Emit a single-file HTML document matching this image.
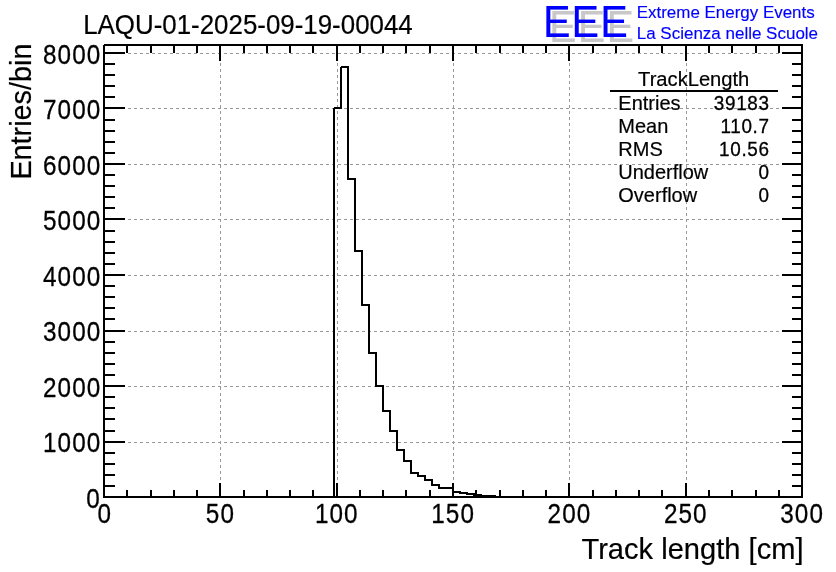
<!DOCTYPE html>
<html lang="en">
<head>
<meta charset="utf-8">
<title>LAQU-01-2025-09-19-00044 TrackLength</title>
<style>
html,body{margin:0;padding:0;background:#fff;}
body{width:836px;height:572px;overflow:hidden;}
svg{display:block;}
text{font-family:"Liberation Sans",sans-serif;fill:#000;stroke:#000;stroke-width:0;stroke-linejoin:round;}
.k{fill:#000;}
</style>
</head>
<body>
<svg width="836" height="572" viewBox="0 0 836 572">
<rect width="836" height="572" fill="#fff"/>
<g shape-rendering="crispEdges">
<path fill="none" stroke="#999" stroke-width="1" transform="translate(0,0.5)" d="M104 442h3 M110 442h3 M116 442h3 M122 442h3 M128 442h3 M134 442h3 M140 442h3 M146 442h3 M152 442h3 M158 442h3 M164 442h3 M170 442h3 M176 442h3 M182 442h3 M188 442h3 M194 442h3 M200 442h3 M206 442h3 M212 442h3 M218 442h3 M224 442h3 M230 442h3 M236 442h3 M242 442h3 M248 442h3 M254 442h3 M260 442h3 M266 442h3 M272 442h3 M278 442h3 M284 442h3 M290 442h3 M296 442h3 M302 442h3 M308 442h3 M314 442h3 M320 442h3 M326 442h3 M332 442h3 M338 442h3 M344 442h3 M350 442h3 M356 442h3 M362 442h3 M368 442h3 M374 442h3 M380 442h3 M386 442h3 M392 442h3 M398 442h3 M404 442h3 M410 442h3 M416 442h3 M422 442h3 M428 442h3 M434 442h3 M440 442h3 M446 442h3 M452 442h3 M458 442h3 M464 442h3 M470 442h3 M476 442h3 M482 442h3 M488 442h3 M494 442h3 M500 442h3 M506 442h3 M512 442h3 M518 442h3 M524 442h3 M530 442h3 M536 442h3 M542 442h3 M548 442h3 M554 442h3 M560 442h3 M566 442h3 M572 442h3 M578 442h3 M584 442h3 M590 442h3 M596 442h3 M602 442h3 M608 442h3 M614 442h3 M620 442h3 M626 442h3 M632 442h3 M638 442h3 M644 442h3 M650 442h3 M656 442h3 M662 442h3 M668 442h3 M674 442h3 M680 442h3 M686 442h3 M692 442h3 M698 442h3 M704 442h3 M710 442h3 M716 442h3 M722 442h3 M728 442h3 M734 442h3 M740 442h3 M746 442h3 M752 442h3 M758 442h3 M764 442h3 M770 442h3 M776 442h3 M782 442h3 M788 442h3 M794 442h3 M800 442h3 M104 386h3 M110 386h3 M116 386h3 M122 386h3 M128 386h3 M134 386h3 M140 386h3 M146 386h3 M152 386h3 M158 386h3 M164 386h3 M170 386h3 M176 386h3 M182 386h3 M188 386h3 M194 386h3 M200 386h3 M206 386h3 M212 386h3 M218 386h3 M224 386h3 M230 386h3 M236 386h3 M242 386h3 M248 386h3 M254 386h3 M260 386h3 M266 386h3 M272 386h3 M278 386h3 M284 386h3 M290 386h3 M296 386h3 M302 386h3 M308 386h3 M314 386h3 M320 386h3 M326 386h3 M332 386h3 M338 386h3 M344 386h3 M350 386h3 M356 386h3 M362 386h3 M368 386h3 M374 386h3 M380 386h3 M386 386h3 M392 386h3 M398 386h3 M404 386h3 M410 386h3 M416 386h3 M422 386h3 M428 386h3 M434 386h3 M440 386h3 M446 386h3 M452 386h3 M458 386h3 M464 386h3 M470 386h3 M476 386h3 M482 386h3 M488 386h3 M494 386h3 M500 386h3 M506 386h3 M512 386h3 M518 386h3 M524 386h3 M530 386h3 M536 386h3 M542 386h3 M548 386h3 M554 386h3 M560 386h3 M566 386h3 M572 386h3 M578 386h3 M584 386h3 M590 386h3 M596 386h3 M602 386h3 M608 386h3 M614 386h3 M620 386h3 M626 386h3 M632 386h3 M638 386h3 M644 386h3 M650 386h3 M656 386h3 M662 386h3 M668 386h3 M674 386h3 M680 386h3 M686 386h3 M692 386h3 M698 386h3 M704 386h3 M710 386h3 M716 386h3 M722 386h3 M728 386h3 M734 386h3 M740 386h3 M746 386h3 M752 386h3 M758 386h3 M764 386h3 M770 386h3 M776 386h3 M782 386h3 M788 386h3 M794 386h3 M800 386h3 M104 331h3 M110 331h3 M116 331h3 M122 331h3 M128 331h3 M134 331h3 M140 331h3 M146 331h3 M152 331h3 M158 331h3 M164 331h3 M170 331h3 M176 331h3 M182 331h3 M188 331h3 M194 331h3 M200 331h3 M206 331h3 M212 331h3 M218 331h3 M224 331h3 M230 331h3 M236 331h3 M242 331h3 M248 331h3 M254 331h3 M260 331h3 M266 331h3 M272 331h3 M278 331h3 M284 331h3 M290 331h3 M296 331h3 M302 331h3 M308 331h3 M314 331h3 M320 331h3 M326 331h3 M332 331h3 M338 331h3 M344 331h3 M350 331h3 M356 331h3 M362 331h3 M368 331h3 M374 331h3 M380 331h3 M386 331h3 M392 331h3 M398 331h3 M404 331h3 M410 331h3 M416 331h3 M422 331h3 M428 331h3 M434 331h3 M440 331h3 M446 331h3 M452 331h3 M458 331h3 M464 331h3 M470 331h3 M476 331h3 M482 331h3 M488 331h3 M494 331h3 M500 331h3 M506 331h3 M512 331h3 M518 331h3 M524 331h3 M530 331h3 M536 331h3 M542 331h3 M548 331h3 M554 331h3 M560 331h3 M566 331h3 M572 331h3 M578 331h3 M584 331h3 M590 331h3 M596 331h3 M602 331h3 M608 331h3 M614 331h3 M620 331h3 M626 331h3 M632 331h3 M638 331h3 M644 331h3 M650 331h3 M656 331h3 M662 331h3 M668 331h3 M674 331h3 M680 331h3 M686 331h3 M692 331h3 M698 331h3 M704 331h3 M710 331h3 M716 331h3 M722 331h3 M728 331h3 M734 331h3 M740 331h3 M746 331h3 M752 331h3 M758 331h3 M764 331h3 M770 331h3 M776 331h3 M782 331h3 M788 331h3 M794 331h3 M800 331h3 M104 275h3 M110 275h3 M116 275h3 M122 275h3 M128 275h3 M134 275h3 M140 275h3 M146 275h3 M152 275h3 M158 275h3 M164 275h3 M170 275h3 M176 275h3 M182 275h3 M188 275h3 M194 275h3 M200 275h3 M206 275h3 M212 275h3 M218 275h3 M224 275h3 M230 275h3 M236 275h3 M242 275h3 M248 275h3 M254 275h3 M260 275h3 M266 275h3 M272 275h3 M278 275h3 M284 275h3 M290 275h3 M296 275h3 M302 275h3 M308 275h3 M314 275h3 M320 275h3 M326 275h3 M332 275h3 M338 275h3 M344 275h3 M350 275h3 M356 275h3 M362 275h3 M368 275h3 M374 275h3 M380 275h3 M386 275h3 M392 275h3 M398 275h3 M404 275h3 M410 275h3 M416 275h3 M422 275h3 M428 275h3 M434 275h3 M440 275h3 M446 275h3 M452 275h3 M458 275h3 M464 275h3 M470 275h3 M476 275h3 M482 275h3 M488 275h3 M494 275h3 M500 275h3 M506 275h3 M512 275h3 M518 275h3 M524 275h3 M530 275h3 M536 275h3 M542 275h3 M548 275h3 M554 275h3 M560 275h3 M566 275h3 M572 275h3 M578 275h3 M584 275h3 M590 275h3 M596 275h3 M602 275h3 M608 275h3 M614 275h3 M620 275h3 M626 275h3 M632 275h3 M638 275h3 M644 275h3 M650 275h3 M656 275h3 M662 275h3 M668 275h3 M674 275h3 M680 275h3 M686 275h3 M692 275h3 M698 275h3 M704 275h3 M710 275h3 M716 275h3 M722 275h3 M728 275h3 M734 275h3 M740 275h3 M746 275h3 M752 275h3 M758 275h3 M764 275h3 M770 275h3 M776 275h3 M782 275h3 M788 275h3 M794 275h3 M800 275h3 M104 219h3 M110 219h3 M116 219h3 M122 219h3 M128 219h3 M134 219h3 M140 219h3 M146 219h3 M152 219h3 M158 219h3 M164 219h3 M170 219h3 M176 219h3 M182 219h3 M188 219h3 M194 219h3 M200 219h3 M206 219h3 M212 219h3 M218 219h3 M224 219h3 M230 219h3 M236 219h3 M242 219h3 M248 219h3 M254 219h3 M260 219h3 M266 219h3 M272 219h3 M278 219h3 M284 219h3 M290 219h3 M296 219h3 M302 219h3 M308 219h3 M314 219h3 M320 219h3 M326 219h3 M332 219h3 M338 219h3 M344 219h3 M350 219h3 M356 219h3 M362 219h3 M368 219h3 M374 219h3 M380 219h3 M386 219h3 M392 219h3 M398 219h3 M404 219h3 M410 219h3 M416 219h3 M422 219h3 M428 219h3 M434 219h3 M440 219h3 M446 219h3 M452 219h3 M458 219h3 M464 219h3 M470 219h3 M476 219h3 M482 219h3 M488 219h3 M494 219h3 M500 219h3 M506 219h3 M512 219h3 M518 219h3 M524 219h3 M530 219h3 M536 219h3 M542 219h3 M548 219h3 M554 219h3 M560 219h3 M566 219h3 M572 219h3 M578 219h3 M584 219h3 M590 219h3 M596 219h3 M602 219h3 M608 219h3 M614 219h3 M620 219h3 M626 219h3 M632 219h3 M638 219h3 M644 219h3 M650 219h3 M656 219h3 M662 219h3 M668 219h3 M674 219h3 M680 219h3 M686 219h3 M692 219h3 M698 219h3 M704 219h3 M710 219h3 M716 219h3 M722 219h3 M728 219h3 M734 219h3 M740 219h3 M746 219h3 M752 219h3 M758 219h3 M764 219h3 M770 219h3 M776 219h3 M782 219h3 M788 219h3 M794 219h3 M800 219h3 M104 164h3 M110 164h3 M116 164h3 M122 164h3 M128 164h3 M134 164h3 M140 164h3 M146 164h3 M152 164h3 M158 164h3 M164 164h3 M170 164h3 M176 164h3 M182 164h3 M188 164h3 M194 164h3 M200 164h3 M206 164h3 M212 164h3 M218 164h3 M224 164h3 M230 164h3 M236 164h3 M242 164h3 M248 164h3 M254 164h3 M260 164h3 M266 164h3 M272 164h3 M278 164h3 M284 164h3 M290 164h3 M296 164h3 M302 164h3 M308 164h3 M314 164h3 M320 164h3 M326 164h3 M332 164h3 M338 164h3 M344 164h3 M350 164h3 M356 164h3 M362 164h3 M368 164h3 M374 164h3 M380 164h3 M386 164h3 M392 164h3 M398 164h3 M404 164h3 M410 164h3 M416 164h3 M422 164h3 M428 164h3 M434 164h3 M440 164h3 M446 164h3 M452 164h3 M458 164h3 M464 164h3 M470 164h3 M476 164h3 M482 164h3 M488 164h3 M494 164h3 M500 164h3 M506 164h3 M512 164h3 M518 164h3 M524 164h3 M530 164h3 M536 164h3 M542 164h3 M548 164h3 M554 164h3 M560 164h3 M566 164h3 M572 164h3 M578 164h3 M584 164h3 M590 164h3 M596 164h3 M602 164h3 M608 164h3 M614 164h3 M620 164h3 M626 164h3 M632 164h3 M638 164h3 M644 164h3 M650 164h3 M656 164h3 M662 164h3 M668 164h3 M674 164h3 M680 164h3 M686 164h3 M692 164h3 M698 164h3 M704 164h3 M710 164h3 M716 164h3 M722 164h3 M728 164h3 M734 164h3 M740 164h3 M746 164h3 M752 164h3 M758 164h3 M764 164h3 M770 164h3 M776 164h3 M782 164h3 M788 164h3 M794 164h3 M800 164h3 M104 108h3 M110 108h3 M116 108h3 M122 108h3 M128 108h3 M134 108h3 M140 108h3 M146 108h3 M152 108h3 M158 108h3 M164 108h3 M170 108h3 M176 108h3 M182 108h3 M188 108h3 M194 108h3 M200 108h3 M206 108h3 M212 108h3 M218 108h3 M224 108h3 M230 108h3 M236 108h3 M242 108h3 M248 108h3 M254 108h3 M260 108h3 M266 108h3 M272 108h3 M278 108h3 M284 108h3 M290 108h3 M296 108h3 M302 108h3 M308 108h3 M314 108h3 M320 108h3 M326 108h3 M332 108h3 M338 108h3 M344 108h3 M350 108h3 M356 108h3 M362 108h3 M368 108h3 M374 108h3 M380 108h3 M386 108h3 M392 108h3 M398 108h3 M404 108h3 M410 108h3 M416 108h3 M422 108h3 M428 108h3 M434 108h3 M440 108h3 M446 108h3 M452 108h3 M458 108h3 M464 108h3 M470 108h3 M476 108h3 M482 108h3 M488 108h3 M494 108h3 M500 108h3 M506 108h3 M512 108h3 M518 108h3 M524 108h3 M530 108h3 M536 108h3 M542 108h3 M548 108h3 M554 108h3 M560 108h3 M566 108h3 M572 108h3 M578 108h3 M584 108h3 M590 108h3 M596 108h3 M602 108h3 M608 108h3 M614 108h3 M620 108h3 M626 108h3 M632 108h3 M638 108h3 M644 108h3 M650 108h3 M656 108h3 M662 108h3 M668 108h3 M674 108h3 M680 108h3 M686 108h3 M692 108h3 M698 108h3 M704 108h3 M710 108h3 M716 108h3 M722 108h3 M728 108h3 M734 108h3 M740 108h3 M746 108h3 M752 108h3 M758 108h3 M764 108h3 M770 108h3 M776 108h3 M782 108h3 M788 108h3 M794 108h3 M800 108h3 M104 53h3 M110 53h3 M116 53h3 M122 53h3 M128 53h3 M134 53h3 M140 53h3 M146 53h3 M152 53h3 M158 53h3 M164 53h3 M170 53h3 M176 53h3 M182 53h3 M188 53h3 M194 53h3 M200 53h3 M206 53h3 M212 53h3 M218 53h3 M224 53h3 M230 53h3 M236 53h3 M242 53h3 M248 53h3 M254 53h3 M260 53h3 M266 53h3 M272 53h3 M278 53h3 M284 53h3 M290 53h3 M296 53h3 M302 53h3 M308 53h3 M314 53h3 M320 53h3 M326 53h3 M332 53h3 M338 53h3 M344 53h3 M350 53h3 M356 53h3 M362 53h3 M368 53h3 M374 53h3 M380 53h3 M386 53h3 M392 53h3 M398 53h3 M404 53h3 M410 53h3 M416 53h3 M422 53h3 M428 53h3 M434 53h3 M440 53h3 M446 53h3 M452 53h3 M458 53h3 M464 53h3 M470 53h3 M476 53h3 M482 53h3 M488 53h3 M494 53h3 M500 53h3 M506 53h3 M512 53h3 M518 53h3 M524 53h3 M530 53h3 M536 53h3 M542 53h3 M548 53h3 M554 53h3 M560 53h3 M566 53h3 M572 53h3 M578 53h3 M584 53h3 M590 53h3 M596 53h3 M602 53h3 M608 53h3 M614 53h3 M620 53h3 M626 53h3 M632 53h3 M638 53h3 M644 53h3 M650 53h3 M656 53h3 M662 53h3 M668 53h3 M674 53h3 M680 53h3 M686 53h3 M692 53h3 M698 53h3 M704 53h3 M710 53h3 M716 53h3 M722 53h3 M728 53h3 M734 53h3 M740 53h3 M746 53h3 M752 53h3 M758 53h3 M764 53h3 M770 53h3 M776 53h3 M782 53h3 M788 53h3 M794 53h3 M800 53h3"/>
<path fill="none" stroke="#999" stroke-width="1" transform="translate(0.5,0)" d="M220 45v3 M220 51v3 M220 57v3 M220 63v3 M220 69v3 M220 75v3 M220 81v3 M220 87v3 M220 93v3 M220 99v3 M220 105v3 M220 111v3 M220 117v3 M220 123v3 M220 129v3 M220 135v3 M220 141v3 M220 147v3 M220 153v3 M220 159v3 M220 165v3 M220 171v3 M220 177v3 M220 183v3 M220 189v3 M220 195v3 M220 201v3 M220 207v3 M220 213v3 M220 219v3 M220 225v3 M220 231v3 M220 237v3 M220 243v3 M220 249v3 M220 255v3 M220 261v3 M220 267v3 M220 273v3 M220 279v3 M220 285v3 M220 291v3 M220 297v3 M220 303v3 M220 309v3 M220 315v3 M220 321v3 M220 327v3 M220 333v3 M220 339v3 M220 345v3 M220 351v3 M220 357v3 M220 363v3 M220 369v3 M220 375v3 M220 381v3 M220 387v3 M220 393v3 M220 399v3 M220 405v3 M220 411v3 M220 417v3 M220 423v3 M220 429v3 M220 435v3 M220 441v3 M220 447v3 M220 453v3 M220 459v3 M220 465v3 M220 471v3 M220 477v3 M220 483v3 M220 489v3 M220 495v3 M337 45v3 M337 51v3 M337 57v3 M337 63v3 M337 69v3 M337 75v3 M337 81v3 M337 87v3 M337 93v3 M337 99v3 M337 105v3 M337 111v3 M337 117v3 M337 123v3 M337 129v3 M337 135v3 M337 141v3 M337 147v3 M337 153v3 M337 159v3 M337 165v3 M337 171v3 M337 177v3 M337 183v3 M337 189v3 M337 195v3 M337 201v3 M337 207v3 M337 213v3 M337 219v3 M337 225v3 M337 231v3 M337 237v3 M337 243v3 M337 249v3 M337 255v3 M337 261v3 M337 267v3 M337 273v3 M337 279v3 M337 285v3 M337 291v3 M337 297v3 M337 303v3 M337 309v3 M337 315v3 M337 321v3 M337 327v3 M337 333v3 M337 339v3 M337 345v3 M337 351v3 M337 357v3 M337 363v3 M337 369v3 M337 375v3 M337 381v3 M337 387v3 M337 393v3 M337 399v3 M337 405v3 M337 411v3 M337 417v3 M337 423v3 M337 429v3 M337 435v3 M337 441v3 M337 447v3 M337 453v3 M337 459v3 M337 465v3 M337 471v3 M337 477v3 M337 483v3 M337 489v3 M337 495v3 M453 45v3 M453 51v3 M453 57v3 M453 63v3 M453 69v3 M453 75v3 M453 81v3 M453 87v3 M453 93v3 M453 99v3 M453 105v3 M453 111v3 M453 117v3 M453 123v3 M453 129v3 M453 135v3 M453 141v3 M453 147v3 M453 153v3 M453 159v3 M453 165v3 M453 171v3 M453 177v3 M453 183v3 M453 189v3 M453 195v3 M453 201v3 M453 207v3 M453 213v3 M453 219v3 M453 225v3 M453 231v3 M453 237v3 M453 243v3 M453 249v3 M453 255v3 M453 261v3 M453 267v3 M453 273v3 M453 279v3 M453 285v3 M453 291v3 M453 297v3 M453 303v3 M453 309v3 M453 315v3 M453 321v3 M453 327v3 M453 333v3 M453 339v3 M453 345v3 M453 351v3 M453 357v3 M453 363v3 M453 369v3 M453 375v3 M453 381v3 M453 387v3 M453 393v3 M453 399v3 M453 405v3 M453 411v3 M453 417v3 M453 423v3 M453 429v3 M453 435v3 M453 441v3 M453 447v3 M453 453v3 M453 459v3 M453 465v3 M453 471v3 M453 477v3 M453 483v3 M453 489v3 M453 495v3 M569 45v3 M569 51v3 M569 57v3 M569 63v3 M569 69v3 M569 75v3 M569 81v3 M569 87v3 M569 93v3 M569 99v3 M569 105v3 M569 111v3 M569 117v3 M569 123v3 M569 129v3 M569 135v3 M569 141v3 M569 147v3 M569 153v3 M569 159v3 M569 165v3 M569 171v3 M569 177v3 M569 183v3 M569 189v3 M569 195v3 M569 201v3 M569 207v3 M569 213v3 M569 219v3 M569 225v3 M569 231v3 M569 237v3 M569 243v3 M569 249v3 M569 255v3 M569 261v3 M569 267v3 M569 273v3 M569 279v3 M569 285v3 M569 291v3 M569 297v3 M569 303v3 M569 309v3 M569 315v3 M569 321v3 M569 327v3 M569 333v3 M569 339v3 M569 345v3 M569 351v3 M569 357v3 M569 363v3 M569 369v3 M569 375v3 M569 381v3 M569 387v3 M569 393v3 M569 399v3 M569 405v3 M569 411v3 M569 417v3 M569 423v3 M569 429v3 M569 435v3 M569 441v3 M569 447v3 M569 453v3 M569 459v3 M569 465v3 M569 471v3 M569 477v3 M569 483v3 M569 489v3 M569 495v3 M686 45v3 M686 51v3 M686 57v3 M686 63v3 M686 69v3 M686 75v3 M686 81v3 M686 87v3 M686 93v3 M686 99v3 M686 105v3 M686 111v3 M686 117v3 M686 123v3 M686 129v3 M686 135v3 M686 141v3 M686 147v3 M686 153v3 M686 159v3 M686 165v3 M686 171v3 M686 177v3 M686 183v3 M686 189v3 M686 195v3 M686 201v3 M686 207v3 M686 213v3 M686 219v3 M686 225v3 M686 231v3 M686 237v3 M686 243v3 M686 249v3 M686 255v3 M686 261v3 M686 267v3 M686 273v3 M686 279v3 M686 285v3 M686 291v3 M686 297v3 M686 303v3 M686 309v3 M686 315v3 M686 321v3 M686 327v3 M686 333v3 M686 339v3 M686 345v3 M686 351v3 M686 357v3 M686 363v3 M686 369v3 M686 375v3 M686 381v3 M686 387v3 M686 393v3 M686 399v3 M686 405v3 M686 411v3 M686 417v3 M686 423v3 M686 429v3 M686 435v3 M686 441v3 M686 447v3 M686 453v3 M686 459v3 M686 465v3 M686 471v3 M686 477v3 M686 483v3 M686 489v3 M686 495v3"/>
</g>
<path class="k" shape-rendering="crispEdges" d="M333 108h2v390h-2zM334 107h8v2h-8zM340 67h2v42h-2zM341 66h8v2h-8zM347 67h2v113h-2zM348 178h8v2h-8zM354 179h2v73h-2zM355 250h8v2h-8zM361 251h2v55h-2zM362 304h8v2h-8zM368 305h2v49h-2zM369 352h8v2h-8zM375 353h2v34h-2zM376 385h8v2h-8zM382 386h2v26h-2zM383 410h8v2h-8zM389 411h2v21h-2zM390 430h8v2h-8zM396 431h2v20h-2zM397 449h8v2h-8zM403 450h2v12h-2zM404 460h8v2h-8zM410 461h2v13h-2zM411 472h8v2h-8zM417 473h2v4h-2zM418 475h8v2h-8zM424 476h2v5h-2zM425 479h8v2h-8zM431 480h2v6h-2zM432 484h8v2h-8zM438 485h2v4h-2zM439 487h8v2h-8zM445 488h2v1h-2zM446 487h8v2h-8zM452 488h2v5h-2zM453 491h8v2h-8zM459 492h2v2h-2zM460 492h8v2h-8zM466 493h2v2h-2zM467 493h8v2h-8zM473 494h2v2h-2zM474 494h8v2h-8zM480 495h2v2h-2zM481 495h8v2h-8zM487 496h2v1h-2zM488 495h8v2h-8zM494 496h2v2h-2z"/>
<g class="k" shape-rendering="crispEdges">
<rect x="104" y="44" width="699" height="2"/>
<rect x="103" y="496" width="700" height="2"/>
<rect x="103" y="45" width="2" height="453"/>
<rect x="801" y="44" width="2" height="454"/>
<rect x="126" y="490" width="2" height="6"/><rect x="126" y="46" width="2" height="7"/>
<rect x="150" y="490" width="2" height="6"/><rect x="150" y="46" width="2" height="7"/>
<rect x="173" y="490" width="2" height="6"/><rect x="173" y="46" width="2" height="7"/>
<rect x="196" y="490" width="2" height="6"/><rect x="196" y="46" width="2" height="7"/>
<rect x="219" y="483" width="2" height="13"/><rect x="219" y="46" width="2" height="15"/>
<rect x="243" y="490" width="2" height="6"/><rect x="243" y="46" width="2" height="7"/>
<rect x="266" y="490" width="2" height="6"/><rect x="266" y="46" width="2" height="7"/>
<rect x="289" y="490" width="2" height="6"/><rect x="289" y="46" width="2" height="7"/>
<rect x="312" y="490" width="2" height="6"/><rect x="312" y="46" width="2" height="7"/>
<rect x="336" y="483" width="2" height="13"/><rect x="336" y="46" width="2" height="15"/>
<rect x="359" y="490" width="2" height="6"/><rect x="359" y="46" width="2" height="7"/>
<rect x="382" y="490" width="2" height="6"/><rect x="382" y="46" width="2" height="7"/>
<rect x="405" y="490" width="2" height="6"/><rect x="405" y="46" width="2" height="7"/>
<rect x="429" y="490" width="2" height="6"/><rect x="429" y="46" width="2" height="7"/>
<rect x="452" y="483" width="2" height="13"/><rect x="452" y="46" width="2" height="15"/>
<rect x="475" y="490" width="2" height="6"/><rect x="475" y="46" width="2" height="7"/>
<rect x="499" y="490" width="2" height="6"/><rect x="499" y="46" width="2" height="7"/>
<rect x="522" y="490" width="2" height="6"/><rect x="522" y="46" width="2" height="7"/>
<rect x="545" y="490" width="2" height="6"/><rect x="545" y="46" width="2" height="7"/>
<rect x="568" y="483" width="2" height="13"/><rect x="568" y="46" width="2" height="15"/>
<rect x="592" y="490" width="2" height="6"/><rect x="592" y="46" width="2" height="7"/>
<rect x="615" y="490" width="2" height="6"/><rect x="615" y="46" width="2" height="7"/>
<rect x="638" y="490" width="2" height="6"/><rect x="638" y="46" width="2" height="7"/>
<rect x="661" y="490" width="2" height="6"/><rect x="661" y="46" width="2" height="7"/>
<rect x="685" y="483" width="2" height="13"/><rect x="685" y="46" width="2" height="15"/>
<rect x="708" y="490" width="2" height="6"/><rect x="708" y="46" width="2" height="7"/>
<rect x="731" y="490" width="2" height="6"/><rect x="731" y="46" width="2" height="7"/>
<rect x="755" y="490" width="2" height="6"/><rect x="755" y="46" width="2" height="7"/>
<rect x="778" y="490" width="2" height="6"/><rect x="778" y="46" width="2" height="7"/>
<rect x="105" y="485" width="10" height="2"/><rect x="792" y="485" width="9" height="2"/>
<rect x="105" y="474" width="10" height="2"/><rect x="792" y="474" width="9" height="2"/>
<rect x="105" y="463" width="10" height="2"/><rect x="792" y="463" width="9" height="2"/>
<rect x="105" y="452" width="10" height="2"/><rect x="792" y="452" width="9" height="2"/>
<rect x="105" y="441" width="20" height="2"/><rect x="782" y="441" width="19" height="2"/>
<rect x="105" y="430" width="10" height="2"/><rect x="792" y="430" width="9" height="2"/>
<rect x="105" y="418" width="10" height="2"/><rect x="792" y="418" width="9" height="2"/>
<rect x="105" y="407" width="10" height="2"/><rect x="792" y="407" width="9" height="2"/>
<rect x="105" y="396" width="10" height="2"/><rect x="792" y="396" width="9" height="2"/>
<rect x="105" y="385" width="20" height="2"/><rect x="782" y="385" width="19" height="2"/>
<rect x="105" y="374" width="10" height="2"/><rect x="792" y="374" width="9" height="2"/>
<rect x="105" y="363" width="10" height="2"/><rect x="792" y="363" width="9" height="2"/>
<rect x="105" y="352" width="10" height="2"/><rect x="792" y="352" width="9" height="2"/>
<rect x="105" y="341" width="10" height="2"/><rect x="792" y="341" width="9" height="2"/>
<rect x="105" y="330" width="20" height="2"/><rect x="782" y="330" width="19" height="2"/>
<rect x="105" y="318" width="10" height="2"/><rect x="792" y="318" width="9" height="2"/>
<rect x="105" y="307" width="10" height="2"/><rect x="792" y="307" width="9" height="2"/>
<rect x="105" y="296" width="10" height="2"/><rect x="792" y="296" width="9" height="2"/>
<rect x="105" y="285" width="10" height="2"/><rect x="792" y="285" width="9" height="2"/>
<rect x="105" y="274" width="20" height="2"/><rect x="782" y="274" width="19" height="2"/>
<rect x="105" y="263" width="10" height="2"/><rect x="792" y="263" width="9" height="2"/>
<rect x="105" y="252" width="10" height="2"/><rect x="792" y="252" width="9" height="2"/>
<rect x="105" y="241" width="10" height="2"/><rect x="792" y="241" width="9" height="2"/>
<rect x="105" y="230" width="10" height="2"/><rect x="792" y="230" width="9" height="2"/>
<rect x="105" y="218" width="20" height="2"/><rect x="782" y="218" width="19" height="2"/>
<rect x="105" y="207" width="10" height="2"/><rect x="792" y="207" width="9" height="2"/>
<rect x="105" y="196" width="10" height="2"/><rect x="792" y="196" width="9" height="2"/>
<rect x="105" y="185" width="10" height="2"/><rect x="792" y="185" width="9" height="2"/>
<rect x="105" y="174" width="10" height="2"/><rect x="792" y="174" width="9" height="2"/>
<rect x="105" y="163" width="20" height="2"/><rect x="782" y="163" width="19" height="2"/>
<rect x="105" y="152" width="10" height="2"/><rect x="792" y="152" width="9" height="2"/>
<rect x="105" y="141" width="10" height="2"/><rect x="792" y="141" width="9" height="2"/>
<rect x="105" y="130" width="10" height="2"/><rect x="792" y="130" width="9" height="2"/>
<rect x="105" y="119" width="10" height="2"/><rect x="792" y="119" width="9" height="2"/>
<rect x="105" y="107" width="20" height="2"/><rect x="782" y="107" width="19" height="2"/>
<rect x="105" y="96" width="10" height="2"/><rect x="792" y="96" width="9" height="2"/>
<rect x="105" y="85" width="10" height="2"/><rect x="792" y="85" width="9" height="2"/>
<rect x="105" y="74" width="10" height="2"/><rect x="792" y="74" width="9" height="2"/>
<rect x="105" y="63" width="10" height="2"/><rect x="792" y="63" width="9" height="2"/>
<rect x="105" y="52" width="20" height="2"/><rect x="782" y="52" width="19" height="2"/>
</g>
<text transform="translate(104.7,522.5) scale(0.945,1.06)" font-size="25.7px" text-anchor="middle" style="stroke-width:0.28px;" letter-spacing="1.15px">0</text>
<text transform="translate(220.443,522.5) scale(0.945,1.06)" font-size="25.7px" text-anchor="middle" style="stroke-width:0.28px;" letter-spacing="1.15px">50</text>
<text transform="translate(336.787,522.5) scale(0.945,1.06)" font-size="25.7px" text-anchor="middle" style="stroke-width:0.28px;" letter-spacing="1.15px">100</text>
<text transform="translate(453.13,522.5) scale(0.945,1.06)" font-size="25.7px" text-anchor="middle" style="stroke-width:0.28px;" letter-spacing="1.15px">150</text>
<text transform="translate(569.473,522.5) scale(0.945,1.06)" font-size="25.7px" text-anchor="middle" style="stroke-width:0.28px;" letter-spacing="1.15px">200</text>
<text transform="translate(685.817,522.5) scale(0.945,1.06)" font-size="25.7px" text-anchor="middle" style="stroke-width:0.28px;" letter-spacing="1.15px">250</text>
<text transform="translate(802.16,522.5) scale(0.945,1.06)" font-size="25.7px" text-anchor="middle" style="stroke-width:0.28px;" letter-spacing="1.15px">300</text>
<text transform="translate(100.95,507.84) scale(0.945,1.085)" font-size="25.7px" text-anchor="end" style="stroke-width:0.28px;" letter-spacing="1.15px">0</text>
<text transform="translate(101.35,452.309) scale(0.945,1.085)" font-size="25.7px" text-anchor="end" style="stroke-width:0.28px;" letter-spacing="1.15px">1000</text>
<text transform="translate(101.35,396.779) scale(0.945,1.085)" font-size="25.7px" text-anchor="end" style="stroke-width:0.28px;" letter-spacing="1.15px">2000</text>
<text transform="translate(101.35,341.248) scale(0.945,1.085)" font-size="25.7px" text-anchor="end" style="stroke-width:0.28px;" letter-spacing="1.15px">3000</text>
<text transform="translate(101.35,285.718) scale(0.945,1.085)" font-size="25.7px" text-anchor="end" style="stroke-width:0.28px;" letter-spacing="1.15px">4000</text>
<text transform="translate(101.35,230.187) scale(0.945,1.085)" font-size="25.7px" text-anchor="end" style="stroke-width:0.28px;" letter-spacing="1.15px">5000</text>
<text transform="translate(101.35,174.657) scale(0.945,1.085)" font-size="25.7px" text-anchor="end" style="stroke-width:0.28px;" letter-spacing="1.15px">6000</text>
<text transform="translate(101.35,119.126) scale(0.945,1.085)" font-size="25.7px" text-anchor="end" style="stroke-width:0.28px;" letter-spacing="1.15px">7000</text>
<text transform="translate(101.35,63.5955) scale(0.945,1.085)" font-size="25.7px" text-anchor="end" style="stroke-width:0.28px;" letter-spacing="1.15px">8000</text>
<text transform="translate(83.2,34.3) scale(1,1.06)" font-size="25.9px" style="stroke-width:0.2px;">LAQU-01-2025-09-19-00044</text>
<text transform="translate(803.5,559.2) scale(1,1.01)" font-size="29.1px" text-anchor="end" style="stroke-width:0.2px;">Track length [cm]</text>
<text transform="translate(31.3,43.6) rotate(-90) scale(1,1.03)" font-size="28.8px" text-anchor="end" style="stroke-width:0.2px;">Entries/bin</text>
<text transform="translate(693.7,85.6) scale(1,1.02)" font-size="20.15px" text-anchor="middle" style="stroke-width:0.2px;">TrackLength</text>
<rect x="610" y="90" width="168" height="2" shape-rendering="crispEdges"/>
<text transform="translate(618.3,109.7) scale(1,1.05)" font-size="20px" style="stroke-width:0.2px;">Entries</text>
<text transform="translate(769.7,110.1) scale(0.945,1.035)" font-size="20px" text-anchor="end" style="stroke-width:0.3px;" letter-spacing="0.7px">39183</text>
<text transform="translate(618.3,132.7) scale(1,1.05)" font-size="20px" style="stroke-width:0.2px;">Mean</text>
<text transform="translate(769.7,133.1) scale(0.945,1.035)" font-size="20px" text-anchor="end" style="stroke-width:0.3px;" letter-spacing="0.7px">110.7</text>
<text transform="translate(618.3,155.7) scale(1,1.05)" font-size="20px" style="stroke-width:0.2px;">RMS</text>
<text transform="translate(769.7,156.1) scale(0.945,1.035)" font-size="20px" text-anchor="end" style="stroke-width:0.3px;" letter-spacing="0.7px">10.56</text>
<text transform="translate(618.3,178.7) scale(1,1.05)" font-size="20px" style="stroke-width:0.2px;">Underflow</text>
<text transform="translate(769.7,179.1) scale(0.945,1.035)" font-size="20px" text-anchor="end" style="stroke-width:0.3px;" letter-spacing="0.7px">0</text>
<text transform="translate(618.3,201.7) scale(1,1.05)" font-size="20px" style="stroke-width:0.2px;">Overflow</text>
<text transform="translate(769.7,202.1) scale(0.945,1.035)" font-size="20px" text-anchor="end" style="stroke-width:0.3px;" letter-spacing="0.7px">0</text>
<text transform="translate(548.95,41.9) scale(0.955,1.045)" font-size="43.3px" style="fill:#c8c8c8;stroke:#c8c8c8;" letter-spacing="1.2px">EEE</text>
<text transform="translate(542.9,37.1) scale(0.955,1.035)" font-size="43.3px" style="fill:#0000ff;stroke:#0000ff;stroke-width:0.1px;" letter-spacing="1.2px">EEE</text>
<text transform="translate(636.75,17.7) scale(1,1.02)" font-size="16.95px" style="fill:#0000ff;stroke:#0000ff;stroke-width:0.15px;">Extreme Energy Events</text>
<text transform="translate(636.75,38.9) scale(1,1.02)" font-size="17px" style="fill:#0000ff;stroke:#0000ff;stroke-width:0.15px;">La Scienza nelle Scuole</text>
</svg>
</body>
</html>
